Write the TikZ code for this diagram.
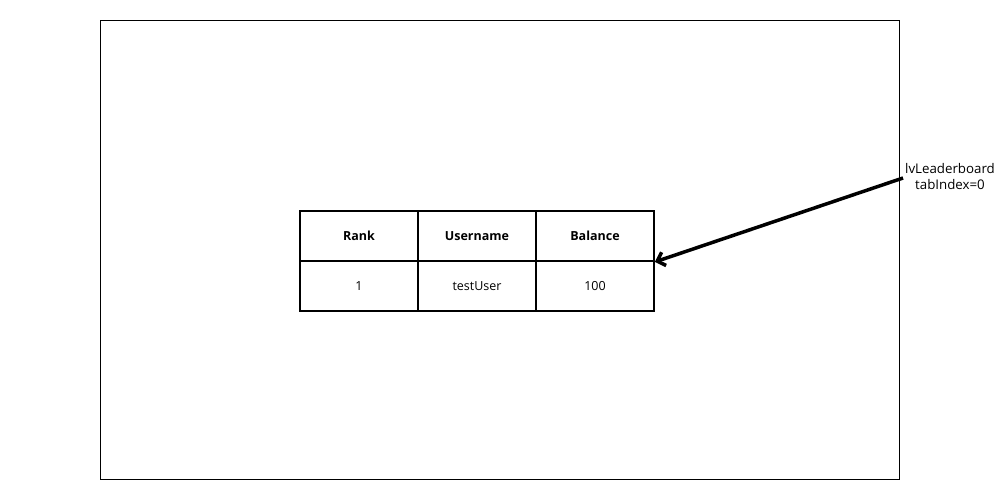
\documentclass[tikz,border=0pt]{standalone}
\usepackage{fontspec}
\setmainfont{Open Sans}
\usetikzlibrary{arrows.meta}
\begin{document}
\begin{tikzpicture}[x=1pt,y=-1pt,
  cell/.style={draw=black,line width=1.8pt,minimum width=118pt,minimum height=50pt,inner sep=0pt,font=\fontsize{12.5}{15}\selectfont},
  head/.style={cell,font=\fontsize{12.5}{15}\selectfont\bfseries},
  lbl/.style={align=center,font=\fontsize{13.3}{16}\selectfont,inner sep=0pt}]
\useasboundingbox (0,0) rectangle (1000,500);
\node[draw=black,line width=0.9pt,minimum width=799pt,minimum height=459pt,inner sep=0pt] (frame) at (499.5,249.5) {};
\node[head] (h1) at (359,236) {Rank};
\node[head] (h2) at (477,236) {Username};
\node[head] (h3) at (595,236) {Balance};
\node[cell] (c1) at (359,286) {1};
\node[cell] (c2) at (477,286) {testUser};
\node[cell] (c3) at (595,286) {100};
\node[lbl] (lab) at (950,177) {lvLeaderboard\\tabIndex=0};
\coordinate (s) at (903,178);
\draw[line width=3.5pt,-{Straight Barb[length=7pt,width=14pt]}] (s) -- (h3.south east);
\end{tikzpicture}
\end{document}
